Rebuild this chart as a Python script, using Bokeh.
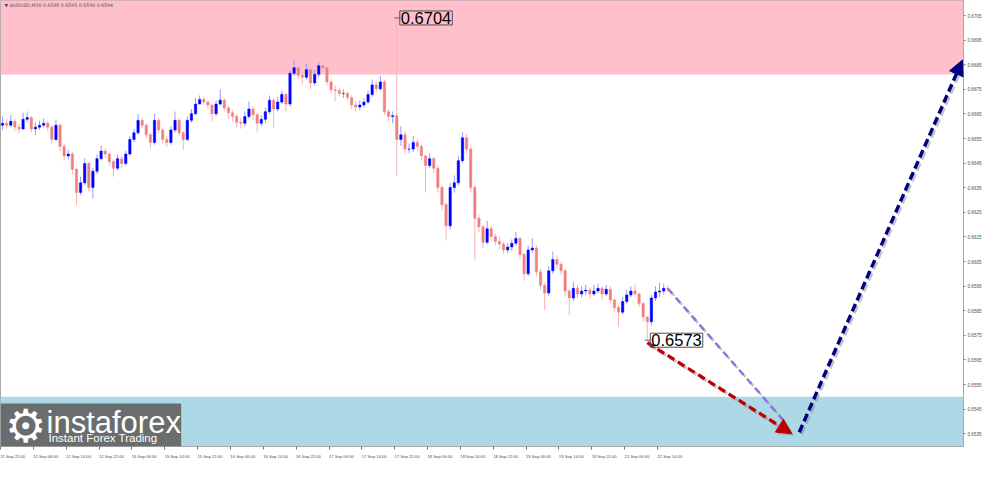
from bokeh.plotting import figure
from bokeh.models import (ColumnDataSource, FixedTicker, Range1d, Label, Arrow,
                          NormalHead, PrintfTickFormatter, BoxAnnotation)
from bokeh.embed import file_html
from bokeh.resources import INLINE

# ---------------- data ----------------
header_text = "\u25BC AUDUSD,M30  0.6595 0.6595 0.6590 0.6594"
first_open = 0.66604
closes = [
    0.66612, 0.66604, 0.66620, 0.66596, 0.66589, 0.66628, 0.66635, 0.66589, 0.66596, 0.66604,
    0.66612, 0.66596, 0.66546, 0.66604, 0.66518, 0.66479, 0.66487, 0.66425, 0.66331, 0.66370,
    0.66448, 0.66351, 0.66417, 0.66468, 0.66499, 0.66487, 0.66456, 0.66429, 0.66468, 0.66448,
    0.66487, 0.66546, 0.66573, 0.66624, 0.66604, 0.66565, 0.66534, 0.66624, 0.66585, 0.66546,
    0.66534, 0.66585, 0.66624, 0.66573, 0.66546, 0.66624, 0.66651, 0.66690, 0.66709, 0.66698,
    0.66686, 0.66651, 0.66690, 0.66706, 0.66674, 0.66655, 0.66639, 0.66616, 0.66612, 0.66639,
    0.66670, 0.66647, 0.66612, 0.66628, 0.66659, 0.66706, 0.66670, 0.66698, 0.66729, 0.66690,
    0.66815, 0.66838, 0.66807, 0.66799, 0.66830, 0.66776, 0.66811, 0.66846, 0.66838, 0.66780,
    0.66748, 0.66745, 0.66733, 0.66733, 0.66717, 0.66686, 0.66678, 0.66686, 0.66698, 0.66729,
    0.66768, 0.66752, 0.66780, 0.66659, 0.66639, 0.66643, 0.66546, 0.66565, 0.66507, 0.66507,
    0.66534, 0.66518, 0.66479, 0.66440, 0.66468, 0.66429, 0.66351, 0.66281, 0.66195, 0.66351,
    0.66370, 0.66460, 0.66553, 0.66507, 0.66351, 0.66226, 0.66191, 0.66128, 0.66183, 0.66152,
    0.66132, 0.66121, 0.66097, 0.66109, 0.66124, 0.66144, 0.66078, 0.66000, 0.66097, 0.66105,
    0.66008, 0.65953, 0.65922, 0.66012, 0.66058, 0.66039, 0.66012, 0.65930, 0.65902, 0.65941,
    0.65918, 0.65930, 0.65934, 0.65918, 0.65930, 0.65941, 0.65918, 0.65937, 0.65894, 0.65863,
    0.65844, 0.65887, 0.65914, 0.65930, 0.65918, 0.65879, 0.65824, 0.65805, 0.65902, 0.65926,
    0.65930, 0.65941, 0.65940]
highs = [
    0.66640, 0.66630, 0.66645, 0.66628, 0.66610, 0.66655, 0.66660, 0.66642, 0.66615, 0.66622,
    0.66632, 0.66620, 0.66605, 0.66625, 0.66610, 0.66530, 0.66505, 0.66495, 0.66430, 0.66395,
    0.66470, 0.66455, 0.66430, 0.66485, 0.66520, 0.66510, 0.66495, 0.66465, 0.66485, 0.66480,
    0.66500, 0.66560, 0.66590, 0.66650, 0.66635, 0.66612, 0.66575, 0.66650, 0.66632, 0.66595,
    0.66560, 0.66600, 0.66660, 0.66632, 0.66580, 0.66640, 0.66670, 0.66715, 0.66725, 0.66720,
    0.66705, 0.66690, 0.66705, 0.66750, 0.66715, 0.66685, 0.66665, 0.66650, 0.66635, 0.66660,
    0.66700, 0.66680, 0.66655, 0.66645, 0.66675, 0.66725, 0.66715, 0.66720, 0.66745, 0.66735,
    0.66830, 0.66870, 0.66850, 0.66815, 0.66855, 0.66840, 0.66830, 0.66860, 0.66865, 0.66845,
    0.66790, 0.66765, 0.66755, 0.66750, 0.66740, 0.66725, 0.66700, 0.66705, 0.66715, 0.66745,
    0.66790, 0.66785, 0.66805, 0.66790, 0.66670, 0.66660, 0.67040, 0.66600, 0.66580, 0.66530,
    0.66560, 0.66550, 0.66525, 0.66485, 0.66490, 0.66475, 0.66440, 0.66360, 0.66290, 0.66370,
    0.66400, 0.66480, 0.66575, 0.66570, 0.66515, 0.66360, 0.66240, 0.66200, 0.66215, 0.66195,
    0.66165, 0.66150, 0.66130, 0.66125, 0.66140, 0.66170, 0.66150, 0.66085, 0.66115, 0.66145,
    0.66115, 0.66020, 0.65965, 0.66030, 0.66090, 0.66075, 0.66050, 0.66020, 0.65940, 0.65965,
    0.65955, 0.65950, 0.65955, 0.65945, 0.65955, 0.65960, 0.65950, 0.65955, 0.65950, 0.65900,
    0.65875, 0.65905, 0.65935, 0.65950, 0.65955, 0.65925, 0.65885, 0.65830, 0.65915, 0.65950,
    0.65965, 0.65960, 0.65955]
lows = [
    0.66585, 0.66590, 0.66598, 0.66580, 0.66570, 0.66585, 0.66615, 0.66575, 0.66565, 0.66585,
    0.66595, 0.66580, 0.66530, 0.66540, 0.66500, 0.66460, 0.66465, 0.66405, 0.66280, 0.66320,
    0.66360, 0.66335, 0.66305, 0.66405, 0.66460, 0.66470, 0.66440, 0.66395, 0.66420, 0.66430,
    0.66440, 0.66480, 0.66535, 0.66565, 0.66590, 0.66550, 0.66510, 0.66525, 0.66570, 0.66530,
    0.66515, 0.66525, 0.66575, 0.66560, 0.66505, 0.66540, 0.66615, 0.66645, 0.66690, 0.66685,
    0.66670, 0.66620, 0.66640, 0.66685, 0.66660, 0.66630, 0.66620, 0.66595, 0.66590, 0.66600,
    0.66630, 0.66625, 0.66575, 0.66600, 0.66615, 0.66650, 0.66592, 0.66660, 0.66690, 0.66660,
    0.66680, 0.66805, 0.66790, 0.66770, 0.66790, 0.66750, 0.66765, 0.66800, 0.66820, 0.66765,
    0.66735, 0.66702, 0.66720, 0.66715, 0.66705, 0.66670, 0.66660, 0.66665, 0.66675, 0.66690,
    0.66720, 0.66740, 0.66745, 0.66645, 0.66620, 0.66612, 0.66397, 0.66520, 0.66490, 0.66490,
    0.66495, 0.66500, 0.66460, 0.66331, 0.66430, 0.66410, 0.66330, 0.66260, 0.66136, 0.66180,
    0.66330, 0.66360, 0.66450, 0.66490, 0.66330, 0.66058, 0.66170, 0.66105, 0.66120, 0.66135,
    0.66115, 0.66100, 0.66080, 0.66085, 0.66095, 0.66115, 0.66060, 0.65972, 0.65990, 0.66085,
    0.65990, 0.65935, 0.65852, 0.65910, 0.66000, 0.66020, 0.65995, 0.65910, 0.65832, 0.65890,
    0.65900, 0.65905, 0.65915, 0.65900, 0.65910, 0.65920, 0.65895, 0.65910, 0.65880, 0.65845,
    0.65785, 0.65835, 0.65880, 0.65905, 0.65905, 0.65865, 0.65805, 0.65730, 0.65790, 0.65890,
    0.65905, 0.65915, 0.65925]

time_labels = ["11 Sep 22:00", "12 Sep 06:00", "12 Sep 14:00", "12 Sep 22:00", "15 Sep 06:00",
               "15 Sep 14:00", "15 Sep 22:00", "16 Sep 06:00", "16 Sep 14:00", "16 Sep 22:00",
               "17 Sep 06:00", "17 Sep 14:00", "17 Sep 22:00", "18 Sep 06:00", "18 Sep 14:00",
               "18 Sep 22:00", "19 Sep 06:00", "19 Sep 14:00", "19 Sep 22:00", "22 Sep 06:00",
               "22 Sep 14:00"]
bars_per_label = 16          # M30 bars between time labels
bars_per_candle = 2          # each drawn candle covers one hour (two M30 bars)
total_slots = 469            # M30 slots visible across the chart

price_ticks = [0.6535, 0.6545, 0.6555, 0.6565, 0.6575, 0.6585, 0.6595, 0.6605, 0.6615,
               0.6625, 0.6635, 0.6645, 0.6655, 0.6665, 0.6675, 0.6685, 0.6695, 0.6705]
price_range = [0.65298, 0.67111]
resistance_zone = [0.6681, 0.6720]
support_zone = [0.6520, 0.6550]
swing_high = 0.6704
swing_low = 0.6573

# forecast paths (slot index, price)
purple_x = [325, 381]
purple_y = [0.65940, 0.65407]
red_x = [315, 385.5]
red_y = [0.65720, 0.65350]
navy_x = [389, 468.5]
navy_y = [0.65356, 0.66869]

# ---------------- build ----------------
opens = [first_open] + closes[:-1]
n = len(closes)
xs = [bars_per_candle * i + 1 for i in range(n)]
bull = [c >= o for o, c in zip(opens, closes)]
src = ColumnDataSource(dict(
    x=xs, o=opens, c=closes, h=highs, l=lows,
    top=[max(o, c) for o, c in zip(opens, closes)],
    bot=[min(o, c) for o, c in zip(opens, closes)],
    body=["#0000ff" if b else "#f08080" for b in bull],
    wick=["#9a9aff" if b else "#f5b3b3" for b in bull],
))

p = figure(width=984, height=461, x_range=Range1d(0, total_slots),
           y_range=Range1d(*price_range), x_axis_location="below",
           y_axis_location="right", output_backend="svg", toolbar_location=None,
           min_border_left=0, min_border_top=0, min_border_right=0, min_border_bottom=0,
           background_fill_color="white", border_fill_color="white")
p.grid.visible = False
p.outline_line_color = "#a8a8a8"

p.add_layout(BoxAnnotation(bottom=resistance_zone[0], top=resistance_zone[1],
                           fill_color="#FFC0CB", fill_alpha=1, line_color=None, level="underlay"))
p.add_layout(BoxAnnotation(bottom=support_zone[0], top=support_zone[1],
                           fill_color="#ADD8E6", fill_alpha=1, line_color=None, level="underlay"))

p.segment(x0="x", y0="l", x1="x", y1="h", source=src, line_color="wick", line_width=1)
p.vbar(x="x", width=1.15, top="top", bottom="bot", source=src,
       fill_color="body", line_color="body", line_width=0.5)

# axes
xa = p.xaxis[0]
major = [k * bars_per_label + 6 for k in range(len(time_labels))]
minor = [k * bars_per_label for k in range(len(time_labels))]
xa.ticker = FixedTicker(ticks=major, minor_ticks=minor)
xa.major_label_overrides = {m: t for m, t in zip(major, time_labels)}
xa.major_tick_line_color = None
xa.minor_tick_line_color = "#707070"
xa.minor_tick_in = 0
xa.minor_tick_out = 3
xa.major_label_standoff = 1
xa.major_label_text_font_size = "4.2px"
xa.major_label_text_color = "#505050"
xa.major_label_text_font = "Liberation Sans"
xa.axis_line_color = "#a8a8a8"

ya = p.yaxis[0]
ya.ticker = FixedTicker(ticks=price_ticks, minor_ticks=[])
ya.formatter = PrintfTickFormatter(format="%.4f")
ya.major_tick_in = 0
ya.major_tick_out = 2
ya.major_tick_line_color = "#808080"
ya.minor_tick_line_color = None
ya.major_label_standoff = 2
ya.major_label_text_font_size = "4.6px"
ya.major_label_text_color = "#505050"
ya.major_label_text_font = "Liberation Sans"
ya.axis_line_color = "#a8a8a8"

# forecast arrows with soft shadows
dx, dy = 0.9, -0.00008
def arrow(xv, yv, color, width, dash, head):
    p.add_layout(Arrow(x_start=xv[0] + dx, y_start=yv[0] + dy, x_end=xv[1] + dx, y_end=yv[1] + dy,
                       line_color="#7a7a7a", line_alpha=0.45, line_width=width, line_dash=dash,
                       end=NormalHead(size=15, fill_color="#7a7a7a", fill_alpha=0.45,
                                      line_color=None) if head else None))
    p.add_layout(Arrow(x_start=xv[0], y_start=yv[0], x_end=xv[1], y_end=yv[1],
                       line_color=color, line_width=width, line_dash=dash,
                       end=NormalHead(size=15, fill_color=color, line_color=color,
                                      line_width=1) if head else None))

arrow(purple_x, purple_y, "#9370DB", 2.4, "7 5", False)
arrow(red_x, red_y, "#C00000", 3.2, "8 4", True)
arrow(navy_x, navy_y, "#000080", 3.4, "8 4", True)

# extreme labels
hi_idx = highs.index(max(highs))
lo_idx = lows.index(min(lows))
p.segment(x0=[xs[hi_idx] - 1.2], y0=[swing_high], x1=[xs[hi_idx] + 1.5], y1=[swing_high],
          line_color="#606060", line_width=1)
p.segment(x0=[xs[lo_idx] - 1.2], y0=[swing_low], x1=[xs[lo_idx] + 1.5], y1=[swing_low],
          line_color="#606060", line_width=1)
p.add_layout(Label(x=xs[hi_idx], y=swing_high, x_offset=3, text=f"{swing_high:.4f}",
                   text_font="Liberation Sans", text_font_size="16.5px",
                   text_baseline="middle", text_color="black",
                   border_line_color="#505050", border_line_width=1, padding=1))
p.add_layout(Label(x=xs[lo_idx], y=swing_low, x_offset=3, text=f"{swing_low:.4f}",
                   text_font="Liberation Sans", text_font_size="16.5px",
                   text_baseline="middle", text_color="black",
                   border_line_color="#505050", border_line_width=1, padding=1))

# header
p.add_layout(Label(x=2, y=price_range[1], y_offset=-2, text=header_text,
                   text_font="DejaVu Sans", text_font_size="4.7px",
                   text_baseline="top", text_color="#505050"))

# watermark logo (kept inside the plot frame)
logo_right = 88                      # slots
logo_top = price_range[0] + 0.00175  # about 43 px above the frame bottom
p.add_layout(BoxAnnotation(left=0, right=logo_right, bottom=price_range[0], top=logo_top,
                           fill_color="#646464", fill_alpha=0.92, line_color=None))
p.add_layout(Label(x=0, y=price_range[0], x_offset=46, y_offset=42, text="instaforex",
                   text_font="Liberation Sans", text_font_size="31px",
                   text_baseline="top", text_color="white"))
p.add_layout(Label(x=0, y=price_range[0], x_offset=48, y_offset=15, text="Instant Forex Trading",
                   text_font="Liberation Sans", text_font_size="11.5px",
                   text_baseline="top", text_color="white"))
p.add_layout(Label(x=0, y=price_range[0], x_offset=25, y_offset=21, text="\u2699",
                   text_font="DejaVu Sans", text_font_size="46px",
                   text_align="center", text_baseline="middle", text_color="white"))

open("out.html", "w").write(file_html(p, INLINE))
